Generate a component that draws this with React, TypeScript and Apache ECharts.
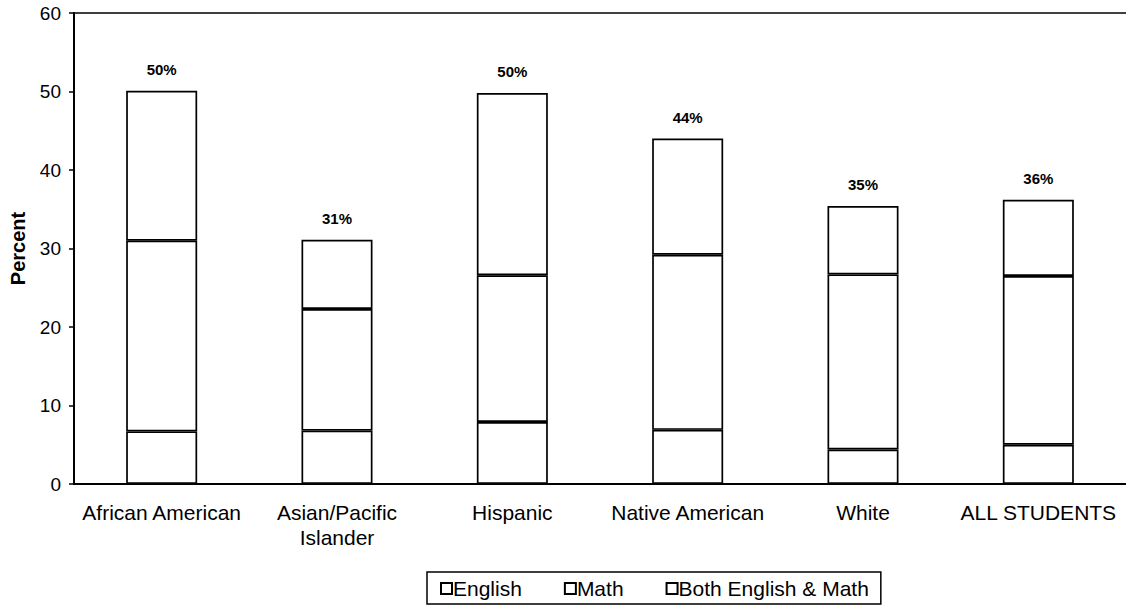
import React, { useEffect, useRef } from "react";
import * as echarts from "echarts";

const categories = [
  "African American",
  "Asian/Pacific\nIslander",
  "Hispanic",
  "Native American",
  "White",
  "ALL STUDENTS",
];
// cumulative levels
const englishTop = [6.7, 6.8, 7.9, 6.9, 4.4, 5.0];
const mathTop = [31.0, 22.3, 26.6, 29.2, 26.7, 26.5];
const bothTop = [50.1, 31.1, 49.8, 44.0, 35.4, 36.2];
const totalLabels = ["50%", "31%", "50%", "44%", "35%", "36%"];

const englishVals = englishTop;
const mathVals = mathTop.map((v, i) => +(v - englishTop[i]).toFixed(2));
const bothVals = bothTop.map((v, i) => +(v - mathTop[i]).toFixed(2));

const FONT = "'Liberation Sans', Arial, sans-serif";

export default function App() {
  const ref = useRef<HTMLDivElement>(null);
  useEffect(() => {
    if (!ref.current) return;
    const chart = echarts.init(ref.current, null, { renderer: "svg" });
    const barStyle = { color: "#ffffff", borderColor: "#000000", borderWidth: 1.7 };
    chart.setOption({
      animation: false,
      backgroundColor: "#ffffff",
      textStyle: { fontFamily: FONT, color: "#000" },
      grid: { left: 74, right: 0, top: 13, bottom: 125 },
      legend: {
        left: 427,
        top: 572,
        data: ["English", "Math", "Both English & Math"],
        icon: "rect",
        itemWidth: 11,
        itemHeight: 11,
        itemGap: 42,
        borderColor: "#000",
        borderWidth: 1.5,
        padding: [6, 12, 5, 13],
        textStyle: { fontFamily: FONT, fontSize: 21, color: "#000", padding: [0, 0, 0, -4] },
        itemStyle: { color: "#fff", borderColor: "#000", borderWidth: 2 },
      },
      xAxis: [
        {
          type: "category",
          data: categories,
          axisLine: { show: true, lineStyle: { color: "#000", width: 2 } },
          axisTick: { show: false },
          axisLabel: {
            fontFamily: FONT,
            fontSize: 21,
            color: "#000",
            margin: 16,
            lineHeight: 25,
            interval: 0,
          },
        },
        {
          type: "category",
          position: "top",
          data: categories,
          axisLine: { show: true, lineStyle: { color: "#000", width: 1.6 } },
          axisTick: { show: false },
          axisLabel: { show: false },
        },
      ],
      yAxis: {
        type: "value",
        min: 0,
        max: 60,
        interval: 10,
        name: "Percent",
        nameLocation: "middle",
        nameGap: 46,
        nameRotate: 90,
        nameTextStyle: { fontFamily: FONT, fontSize: 20, fontWeight: "bold", color: "#000" },
        axisLine: { show: true, lineStyle: { color: "#000", width: 2 } },
        axisTick: { show: true, length: 5, lineStyle: { color: "#000", width: 1.5 } },
        axisLabel: { fontFamily: FONT, fontSize: 19, color: "#000", margin: 13 },
        splitLine: { show: false },
      },
      series: [
        {
          name: "English",
          type: "bar",
          stack: "s",
          data: englishVals,
          barWidth: "40.5%",
          itemStyle: barStyle,
        },
        {
          name: "Math",
          type: "bar",
          stack: "s",
          data: mathVals,
          itemStyle: barStyle,
        },
        {
          name: "Both English & Math",
          type: "bar",
          stack: "s",
          data: bothVals,
          itemStyle: barStyle,
          label: {
            show: true,
            position: "top",
            distance: 14,
            fontFamily: FONT,
            fontSize: 15,
            fontWeight: "bold",
            color: "#000",
            formatter: (p: any) => totalLabels[p.dataIndex],
          },
        },
      ],
    });
    return () => chart.dispose();
  }, []);
  return (
    <div
      ref={ref}
      style={{ position: "fixed", left: 0, top: 0, width: 1126, height: 609, background: "#fff" }}
    />
  );
}
